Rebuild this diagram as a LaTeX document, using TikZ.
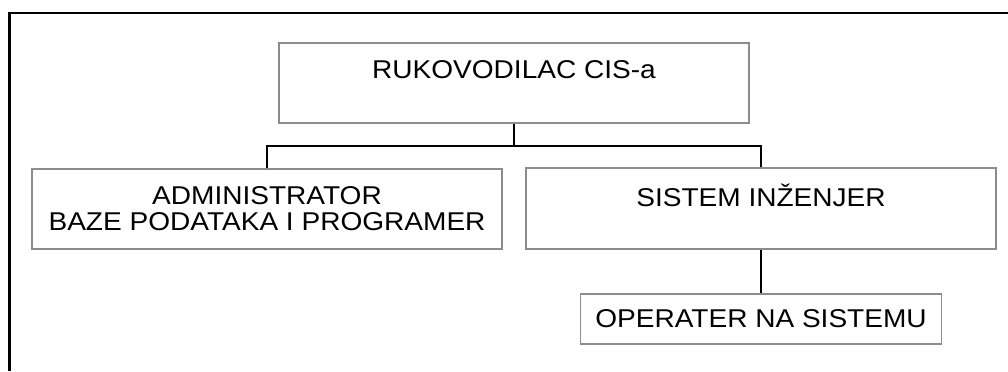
\documentclass[tikz,border=0pt]{standalone}
\usepackage{fontspec}
\setmainfont[FakeStretch=1.09]{Liberation Sans}
\usetikzlibrary{positioning, calc}

\begin{document}
\begin{tikzpicture}[x=0.025cm,y=-0.025cm,box/.style={draw=black!45,line width=1.1pt,align=center,inner sep=0pt,font=\fontsize{18.3}{18.5}\selectfont},link/.style={draw=black,line width=1pt},frame/.style={line width=2.1pt}]
\useasboundingbox (0,0) rectangle (1008,371);
\draw[frame] (1008,13) -- (9.5,13) -- (9.5,371);
\node[box,minimum width=11.75cm,minimum height=2cm] (ruk) at (514,83) {RUKOVODILAC CIS-a\\\mbox{}};
\node[box,minimum width=11.75cm,minimum height=2cm] (admin) at (267,209) {ADMINISTRATOR\\BAZE PODATAKA I PROGRAMER};
\node[box,minimum width=11.75cm,minimum height=2.02cm] (sistem) at (761,208.5) {SISTEM INŽENJER\\\mbox{}};
\node[box,minimum width=9.03cm,minimum height=1.25cm] (oper) at (761,319) {OPERATER NA SISTEMU};
\coordinate (split) at (514,146);
\draw[link] (ruk.south) -- (split);
\draw[link] (admin.north) |- (split) -| (sistem.north);
\draw[link] (sistem.south) -- (oper.north);
\end{tikzpicture}
\end{document}
